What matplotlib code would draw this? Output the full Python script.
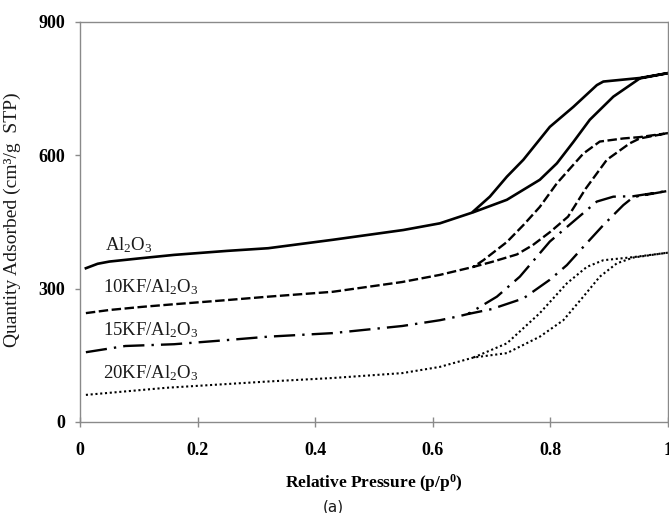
import matplotlib
matplotlib.use("Agg")
import matplotlib.pyplot as plt

plt.rcParams['font.family'] = ['Liberation Serif', 'DejaVu Serif']
plt.rcParams['mathtext.fontset'] = 'custom'
plt.rcParams['mathtext.rm'] = 'Liberation Serif'
plt.rcParams['mathtext.it'] = 'Liberation Serif:italic'
plt.rcParams['mathtext.bf'] = 'Liberation Serif:bold'

# N2 isotherms: adsorption branch (increasing p/p0) and desorption branch (decreasing p/p0)
al2o3_ads_x = [0.01, 0.03, 0.05, 0.10, 0.16, 0.25, 0.32, 0.43, 0.55, 0.612, 0.669, 0.726, 0.782, 0.811, 0.839, 0.867, 0.907, 0.952, 1.0]
al2o3_ads_y = [346, 356, 361, 368, 376, 385, 391, 410, 432, 447, 472, 500, 545, 582, 630, 680, 732, 773, 785]
al2o3_des_x = [1.0, 0.952, 0.89, 0.879, 0.839, 0.799, 0.754, 0.726, 0.697, 0.669]
al2o3_des_y = [785, 774, 766, 758, 709, 664, 590, 552, 507, 474]

kf10_ads_x = [0.01, 0.05, 0.105, 0.16, 0.247, 0.32, 0.43, 0.548, 0.612, 0.669, 0.70, 0.743, 0.77, 0.80, 0.83, 0.86, 0.896, 0.935, 0.952, 1.0]
kf10_ads_y = [245, 252, 259, 265, 274, 282, 293, 315, 331, 349, 360, 377, 398, 428, 462, 525, 590, 627, 638, 650]
kf10_des_x = [1.0, 0.952, 0.924, 0.884, 0.856, 0.811, 0.782, 0.754, 0.726, 0.686, 0.669]
kf10_des_y = [650, 641, 638, 631, 604, 537, 484, 443, 405, 364, 349]

kf15_ads_x = [0.01, 0.077, 0.16, 0.247, 0.32, 0.43, 0.548, 0.612, 0.641, 0.66, 0.70, 0.754, 0.799, 0.828, 0.856, 0.89, 0.924, 0.941, 1.0]
kf15_ads_y = [157, 171, 175, 184, 192, 200, 216, 229, 237, 243, 254, 278, 320, 353, 394, 443, 488, 506, 520]
kf15_des_x = [1.0, 0.941, 0.907, 0.879, 0.839, 0.799, 0.748, 0.709, 0.66]
kf15_des_y = [520, 508, 507, 496, 451, 406, 327, 282, 243]

kf20_ads_x = [0.01, 0.147, 0.318, 0.43, 0.548, 0.612, 0.669, 0.726, 0.782, 0.822, 0.856, 0.884, 0.913, 0.941, 1.0]
kf20_ads_y = [61, 77, 91, 99, 110, 124, 145, 155, 192, 229, 282, 327, 357, 370, 381]
kf20_des_x = [1.0, 0.941, 0.89, 0.862, 0.828, 0.782, 0.726, 0.669]
kf20_des_y = [381, 371, 364, 349, 312, 245, 177, 145]

sample_labels = [r'Al$_2$O$_3$', r'10KF/Al$_2$O$_3$', r'15KF/Al$_2$O$_3$', r'20KF/Al$_2$O$_3$']
label_pos = [(0.042, 387), (0.039, 292), (0.039, 196), (0.039, 99)]

x_ticks = [0, 0.2, 0.4, 0.6, 0.8, 1]
x_tick_labels = ['0', '0.2', '0.4', '0.6', '0.8', '1']
y_ticks = [0, 300, 600, 900]
y_tick_labels = ['0', '300', '600', '900']

fig = plt.figure(figsize=(6.69, 5.13), dpi=100)
ax = fig.add_axes([80 / 669, 1 - 422 / 513, 588 / 669, 400 / 513])

series = [
    (al2o3_ads_x, al2o3_ads_y, al2o3_des_x, al2o3_des_y, dict(linestyle='-', lw=1.9)),
    (kf10_ads_x, kf10_ads_y, kf10_des_x, kf10_des_y, dict(linestyle=(0, (4, 1.5)), lw=1.7)),
    (kf15_ads_x, kf15_ads_y, kf15_des_x, kf15_des_y, dict(linestyle=(0, (9, 3, 1, 3)), lw=1.7)),
    (kf20_ads_x, kf20_ads_y, kf20_des_x, kf20_des_y, dict(linestyle=(0, (1, 1.3)), lw=1.5)),
]
for ax_x, ax_y, de_x, de_y, style in series:
    ax.plot(ax_x + de_x, ax_y + de_y, color='black', solid_joinstyle='round', **style)

for text, (tx, ty) in zip(sample_labels, label_pos):
    ax.text(tx, ty, text, fontsize=13.5, va='baseline', ha='left', color='#1a1a1a')

ax.set_xlim(0, 1)
ax.set_ylim(0, 900)
ax.set_xticks(x_ticks)
ax.set_xticklabels(x_tick_labels, fontsize=13, fontweight='bold')
ax.set_yticks(y_ticks)
ax.set_yticklabels(y_tick_labels, fontsize=13, fontweight='bold')

for side in ['left', 'right', 'top', 'bottom']:
    ax.spines[side].set_color('#8a8a8a')
    ax.spines[side].set_linewidth(1.0)

ax.tick_params(axis='x', direction='inout', length=7, width=1, color='#8a8a8a', pad=11)
ax.tick_params(axis='y', direction='out', length=3.5, width=1, color='#8a8a8a', pad=7)

ax.set_ylabel('Quantity Adsorbed (cm³/g  STP)', fontsize=14, color='#1a1a1a')
ax.yaxis.set_label_coords(-0.1, 0.505)
ax.set_xlabel(r'Relative Pressure (p/p$^\mathbf{0}$)', fontsize=12.5, fontweight='bold')
ax.xaxis.set_label_coords(0.5, -0.125)

fig.text(333 / 669, 1 - 507 / 513, '(a)', fontsize=11, family='DejaVu Sans',
         ha='center', va='center', color='#1a1a1a')

fig.savefig('out.png', dpi=100)
